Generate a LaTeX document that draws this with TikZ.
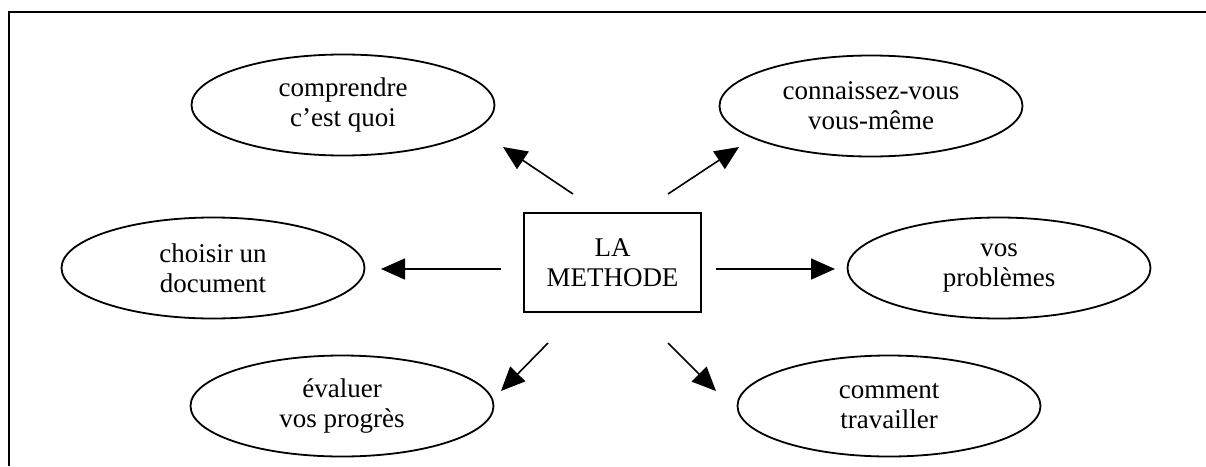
\documentclass[tikz,border=0pt]{standalone}
\usepackage{fontspec}
\setmainfont{Liberation Serif}
\usetikzlibrary{shapes.geometric,arrows.meta}
\begin{document}
\begin{tikzpicture}[x=1pt,y=-1pt,
  oval/.style={ellipse,draw,line width=1.8pt,minimum width=303pt,minimum height=101pt,inner sep=0pt,align=center,font=\fontsize{27}{30}\selectfont},
  mbox/.style={rectangle,draw,line width=1.3pt,minimum width=177pt,minimum height=99pt,inner sep=0pt,align=center,font=\fontsize{27}{30}\selectfont},
  arr/.style={line width=1.6pt,-{Triangle[length=24pt,width=21pt]}}]
\useasboundingbox (0,0) rectangle (1206,466);
\draw[line width=2pt] (9,466) -- (9,12) -- (1206,12);
\node[mbox] (m) at (612.5,262.5) {LA\\METHODE};
\node[oval] (c1) at (343,105) {comprendre\\c’est quoi};
\node[oval] (c2) at (871,106) {connaissez-vous\\vous-même};
\node[oval] (c3) at (213,268) {choisir un\\document};
\node[oval] (c4) at (999,268) {vos\\problèmes};
\node[oval] (c5) at (342,406) {évaluer\\vos progrès};
\node[oval] (c6) at (889,406) {comment\\travailler};
\coordinate (a1s) at (573,194); \coordinate (a1e) at (503,147);
\coordinate (a2s) at (668,194); \coordinate (a2e) at (739,147);
\coordinate (a3s) at (501,269); \coordinate (a3e) at (381,269);
\coordinate (a4s) at (716,269); \coordinate (a4e) at (835,269);
\coordinate (a5s) at (548,343); \coordinate (a5e) at (501,391);
\coordinate (a6s) at (668,343); \coordinate (a6e) at (716,391);
\draw[arr] (a1s) -- (a1e);
\draw[arr] (a2s) -- (a2e);
\draw[arr] (a3s) -- (a3e);
\draw[arr] (a4s) -- (a4e);
\draw[arr] (a5s) -- (a5e);
\draw[arr] (a6s) -- (a6e);
\end{tikzpicture}
\end{document}
